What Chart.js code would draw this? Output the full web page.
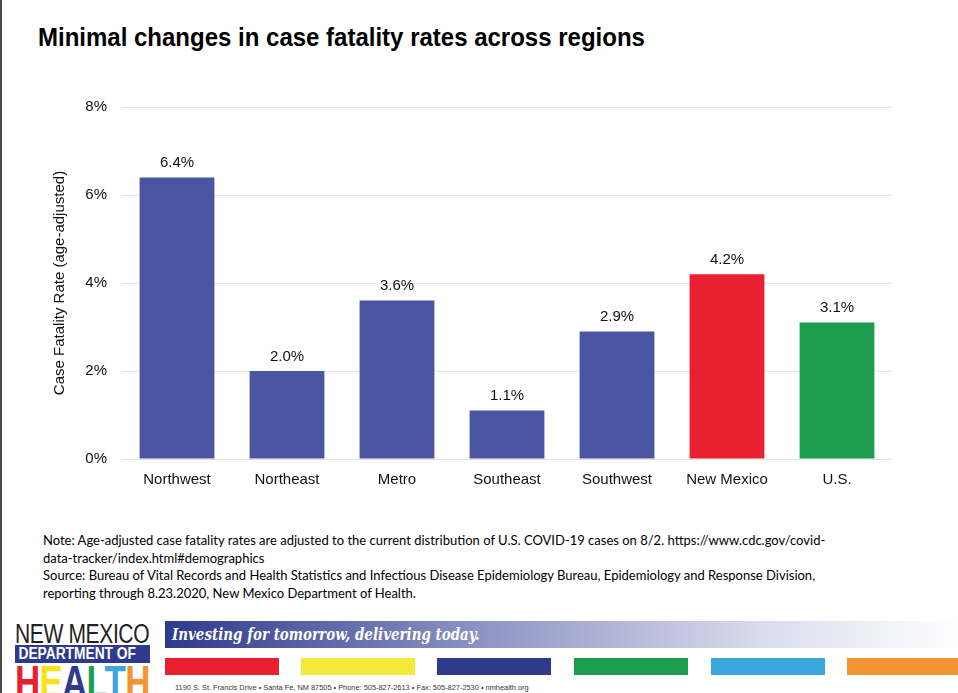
<!DOCTYPE html>
<html>
<head>
<meta charset="utf-8">
<script src="https://cdn.jsdelivr.net/npm/chart.js@4.4.1/dist/chart.umd.min.js"></script>
<style>
  html, body { margin: 0; padding: 0; background: #fff; }
  #page { position: relative; width: 958px; height: 693px; overflow: hidden; background: #fff; }
  #edge { position: absolute; left: 0; top: 0; width: 2px; height: 693px; background: #4a4a4a; }
  #title { position: absolute; left: 38px; top: 23px; font: bold 25px "Liberation Sans", Arial, sans-serif; color: #000; transform: scaleX(0.96); transform-origin: left; white-space: nowrap; }
  #chartBox { position: absolute; left: 0; top: 83px; width: 958px; height: 407px; }
  #notes { position: absolute; left: 43px; top: 532px; font: 13px Lato, "Open Sans", sans-serif; line-height: 17.5px; color: #000; width: 820px; }
  #logo1 { position: absolute; left: 15px; top: 619px; font: 27px "Liberation Sans", sans-serif; color: #222; letter-spacing: -0.5px; transform: scaleX(0.78); transform-origin: left; white-space: nowrap; }
  #logo2 { position: absolute; left: 15px; top: 645px; width: 135px; height: 18px; background: #2e3a8c; overflow: hidden; }
  #logo2 span { display: block; color: #fff; font: bold 16px "Liberation Sans", sans-serif; line-height: 18px; white-space: nowrap; transform: scaleX(0.86); transform-origin: left; padding-left: 4px; }
  #logo3 { position: absolute; left: 15px; top: 659px; font: bold 46px "Liberation Sans", sans-serif; line-height: 46px; white-space: nowrap; letter-spacing: -1px; transform: scaleX(0.76); transform-origin: left; }
  #band { position: absolute; left: 165px; top: 621px; width: 793px; height: 27px; background: linear-gradient(to right, #2e3a8c, #8e94c4 40%, #d8dbec 75%, #ffffff); }
  #band span { position: absolute; left: 7px; top: 4px; font: italic bold 16px "DejaVu Serif", serif; color: #fff; transform: scaleX(0.84); transform-origin: left; white-space: nowrap; }
  .sw { position: absolute; top: 658px; width: 114px; height: 17px; }
  #addr { position: absolute; left: 175px; top: 683px; font: 7.4px "Liberation Sans", sans-serif; color: #333; white-space: nowrap; }
</style>
</head>
<body>
<div id="page">
  <div id="edge"></div>
  <div id="title">Minimal changes in case fatality rates across regions</div>
  <div id="chartBox"><canvas id="fatalityChart"></canvas></div>
  <div id="notes">
    Note: Age-adjusted case fatality rates are adjusted to the current distribution of U.S. COVID-19 cases on 8/2. https://www.cdc.gov/covid-<br>
    data-tracker/index.html#demographics<br>
    Source: Bureau of Vital Records and Health Statistics and Infectious Disease Epidemiology Bureau, Epidemiology and Response Division,<br>
    reporting through 8.23.2020, New Mexico Department of Health.
  </div>
  <div id="logo1">NEW MEXICO</div>
  <div id="logo2"><span>DEPARTMENT OF</span></div>
  <div id="logo3"><span style="color:#e8202f">H</span><span style="color:#f7e21b">E</span><span style="color:#2e3a8c">A</span><span style="color:#1d9e4f">L</span><span style="color:#3aa6dd">T</span><span style="color:#f39332">H</span></div>
  <div id="band"><span>Investing for tomorrow, delivering today.</span></div>
  <div class="sw" style="left:165px;background:#e8202f"></div>
  <div class="sw" style="left:301px;background:#f7e93a"></div>
  <div class="sw" style="left:437px;background:#2e3a8c"></div>
  <div class="sw" style="left:574px;background:#1d9e4f"></div>
  <div class="sw" style="left:711px;background:#3aa6dd"></div>
  <div class="sw" style="left:847px;background:#f39332"></div>
  <div id="addr">1190 S. St. Francis Drive &bull; Santa Fe, NM 87505 &bull; Phone: 505-827-2613 &bull; Fax: 505-827-2530 &bull; nmhealth.org</div>
</div>
<script>
// values
const regions = ['Northwest', 'Northeast', 'Metro', 'Southeast', 'Southwest', 'New Mexico', 'U.S.'];
const fatalityRates = [6.4, 2.0, 3.6, 1.1, 2.9, 4.2, 3.1];
const barColors = ['#4a55a2', '#4a55a2', '#4a55a2', '#4a55a2', '#4a55a2', '#e8202f', '#1d9e4f'];
const yTicks = [0, 2, 4, 6, 8];

const valueLabels = {
  id: 'valueLabels',
  afterDatasetsDraw(chart) {
    const ctx = chart.ctx;
    const meta = chart.getDatasetMeta(0);
    ctx.save();
    ctx.font = '15px "Liberation Sans", Arial, sans-serif';
    ctx.fillStyle = '#111';
    ctx.textAlign = 'center';
    ctx.textBaseline = 'bottom';
    meta.data.forEach((bar, i) => {
      ctx.fillText(fatalityRates[i].toFixed(1) + '%', bar.x, bar.y - 7);
    });
    ctx.restore();
  }
};

new Chart(document.getElementById('fatalityChart'), {
  type: 'bar',
  data: {
    labels: regions,
    datasets: [{
      data: fatalityRates,
      backgroundColor: barColors,
      categoryPercentage: 1.0,
      barPercentage: 0.68,
    }]
  },
  options: {
    responsive: true,
    maintainAspectRatio: false,
    animation: false,
    layout: { padding: { left: 40, right: 66, top: 9, bottom: 0 } },
    plugins: {
      legend: { display: false },
      tooltip: { enabled: false },
    },
    scales: {
      x: {
        grid: { display: false },
        border: { display: false },
        ticks: { color: '#111', padding: 4, font: { size: 15, family: '"Liberation Sans", Arial, sans-serif' } },
        afterFit: (s) => { s.height = 31; },
      },
      y: {
        min: 0,
        max: 8,
        afterBuildTicks: (s) => { s.ticks = yTicks.map(v => ({ value: v })); },
        grid: { color: '#e4e4e4', drawTicks: false },
        border: { display: false },
        ticks: {
          color: '#111',
          padding: 15,
          font: { size: 15, family: '"Liberation Sans", Arial, sans-serif' },
          callback: (v) => v + '%',
        },
        title: {
          display: true,
          text: 'Case Fatality Rate (age-adjusted)',
          color: '#111',
          font: { size: 15, family: '"Liberation Sans", Arial, sans-serif' },
          padding: { top: 11, bottom: 0 },
        },
        afterFit: (s) => { s.width = 82; },
      }
    }
  },
  plugins: [valueLabels]
});
</script>
</body>
</html>
